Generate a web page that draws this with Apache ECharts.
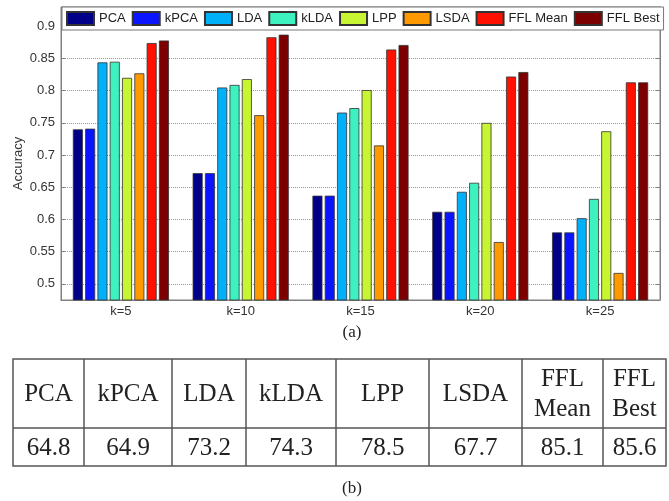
<!DOCTYPE html>
<html>
<head>
<meta charset="utf-8">
<script src="https://cdn.jsdelivr.net/npm/echarts@6/dist/echarts.min.js"></script>
<style>
  html, body { margin: 0; padding: 0; background: #fff; }
  #main { width: 669px; height: 501px; }
</style>
</head>
<body>
<div id="main"></div>
<script>
// chart (a) data
var categories = ['k=5', 'k=10', 'k=15', 'k=20', 'k=25'];
var methods = ['PCA', 'kPCA', 'LDA', 'kLDA', 'LPP', 'LSDA', 'FFL Mean', 'FFL Best'];
var pca     = [0.740, 0.672, 0.637, 0.612, 0.580];
var kpca    = [0.741, 0.672, 0.637, 0.612, 0.580];
var lda     = [0.844, 0.805, 0.766, 0.643, 0.602];
var klda    = [0.845, 0.809, 0.773, 0.657, 0.632];
var lpp     = [0.820, 0.818, 0.801, 0.750, 0.737];
var lsda    = [0.827, 0.762, 0.715, 0.565, 0.517];
var fflMean = [0.874, 0.883, 0.864, 0.822, 0.813];
var fflBest = [0.878, 0.887, 0.871, 0.829, 0.813];

// table (b) data
var tableHeaders = ['PCA', 'kPCA', 'LDA', 'kLDA', 'LPP', 'LSDA', 'FFL\nMean', 'FFL\nBest'];
var tableValues = ['64.8', '64.9', '73.2', '74.3', '78.5', '67.7', '85.1', '85.6'];

var colors = ['#000088', '#0a14ff', '#00b0f8', '#3ef2c0', '#c8f531', '#ff9900', '#ff1000', '#7d0000'];
var seriesData = [pca, kpca, lda, klda, lpp, lsda, fflMean, fflBest];

var sans = 'Liberation Sans, Arial, Helvetica, sans-serif';
var serif = 'Liberation Serif, Times New Roman, serif';

// table layout
var colX = [13, 84, 172, 246, 336, 429, 522, 603, 666];
var rowY = [359, 428, 466];
var lineColor = '#555';

var graphics = [];
graphics.push({
    type: 'rect',
    shape: { x: colX[0], y: rowY[0], width: colX[8] - colX[0], height: rowY[2] - rowY[0] },
    style: { fill: 'none', stroke: lineColor, lineWidth: 1.5 }
});
graphics.push({
    type: 'line',
    shape: { x1: colX[0], y1: rowY[1], x2: colX[8], y2: rowY[1] },
    style: { stroke: lineColor, lineWidth: 1.5 }
});
for (var i = 1; i < colX.length - 1; i++) {
    graphics.push({
        type: 'line',
        shape: { x1: colX[i], y1: rowY[0], x2: colX[i], y2: rowY[2] },
        style: { stroke: lineColor, lineWidth: 1.5 }
    });
}
for (var j = 0; j < tableHeaders.length; j++) {
    var cx = (colX[j] + colX[j + 1]) / 2;
    graphics.push({
        type: 'text',
        x: cx, y: (rowY[0] + rowY[1]) / 2 + 1,
        style: {
            text: tableHeaders[j], fill: '#222', font: '25px ' + serif,
            align: 'center', verticalAlign: 'middle', lineHeight: 30
        }
    });
    graphics.push({
        type: 'text',
        x: cx, y: (rowY[1] + rowY[2]) / 2 + 1,
        style: {
            text: tableValues[j], fill: '#222', font: '25px ' + serif,
            align: 'center', verticalAlign: 'middle'
        }
    });
}
graphics.push({
    type: 'text', x: 352, y: 333,
    style: { text: '(a)', fill: '#222', font: '17px ' + serif, align: 'center', verticalAlign: 'middle' }
});
graphics.push({
    type: 'text', x: 352, y: 489,
    style: { text: '(b)', fill: '#222', font: '17px ' + serif, align: 'center', verticalAlign: 'middle' }
});

var series = methods.map(function (name, k) {
    return {
        name: name,
        type: 'bar',
        data: seriesData[k],
        barWidth: 10,
        barGap: '23%',
        itemStyle: { color: colors[k], borderColor: '#333', borderWidth: 0.8, borderRadius: 0 }
    };
});

var option = {
    animation: false,
    backgroundColor: '#fff',
    textStyle: { fontFamily: sans },
    grid: {
        left: 61, right: 9, top: 7, bottom: 201,
        show: true, borderColor: '#808080', borderWidth: 1
    },
    legend: {
        left: 62, top: 7,
        padding: [4, 4, 4, 4],
        icon: 'rect',
        itemWidth: 27, itemHeight: 13, itemGap: 6,
        backgroundColor: '#fff',
        borderColor: '#777', borderWidth: 1,
        textStyle: { fontSize: 13, color: '#222', fontFamily: sans },
        data: methods
    },
    xAxis: [{
        type: 'category',
        data: categories,
        axisLine: { lineStyle: { color: '#808080' } },
        axisTick: { inside: true, alignWithLabel: true, length: 4, lineStyle: { color: '#808080' } },
        axisLabel: { color: '#333', fontSize: 13, margin: 5, fontFamily: sans },
        splitLine: { show: false }
    }],
    yAxis: [{
        type: 'value',
        min: 0.475, max: 0.93,
        minInterval: 0.05, maxInterval: 0.05,
        name: 'Accuracy',
        nameLocation: 'middle',
        nameMoveOverlap: false,
        nameGap: 36,
        nameTextStyle: { color: '#333', fontSize: 13, padding: [0, 20, 0, 0], fontFamily: sans },
        axisLine: { show: true, lineStyle: { color: '#808080' } },
        axisTick: { show: true, inside: true, length: 4, lineStyle: { color: '#808080' } },
        axisLabel: { color: '#333', fontSize: 13, margin: 6, showMinLabel: false, showMaxLabel: false, fontFamily: sans },
        splitLine: { show: true, lineStyle: { color: '#999', type: 'dotted', width: 1 } }
    }, {
        type: 'value',
        position: 'right',
        min: 0.475, max: 0.93,
        minInterval: 0.05, maxInterval: 0.05,
        axisLine: { show: true, lineStyle: { color: '#808080' } },
        axisTick: { show: true, inside: true, length: 4, lineStyle: { color: '#808080' } },
        axisLabel: { show: false },
        splitLine: { show: false }
    }],
    series: series,
    graphic: graphics
};

var myChart = echarts.init(document.getElementById('main'));
myChart.setOption(option);
</script>
</body>
</html>
